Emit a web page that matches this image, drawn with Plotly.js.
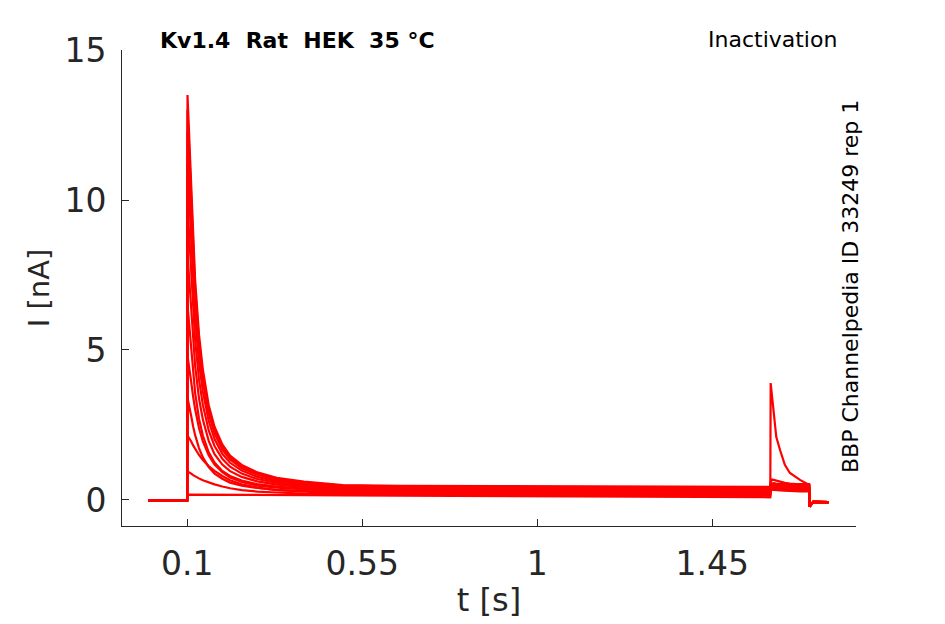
<!DOCTYPE html>
<html>
<head>
<meta charset="utf-8">
<script src="https://cdn.plot.ly/plotly-3.0.1.min.js"></script>
<style>
  body { margin: 0; background: #fff; }
  #chart { width: 945px; height: 624px; }
</style>
</head>
<body>
<div id="chart"></div>
<script>
// sample times [s], shared by every sweep
const tSec = [0, 0.0995, 0.1005, 0.106, 0.11, 0.115, 0.12, 0.13, 0.14, 0.155, 0.17, 0.19, 0.21, 0.24, 0.28, 0.33, 0.4, 0.5, 0.65,
  0.9, 1.2, 1.5995, 1.6005, 1.604, 1.608, 1.615, 1.625, 1.637, 1.65, 1.676, 1.6995, 1.7005, 1.71, 1.75];

// currents [nA], one array per sweep
const sweep0 = [-0.01, -0.01, 0.18, 0.18, 0.18, 0.18, 0.18, 0.18, 0.18, 0.18, 0.18, 0.18, 0.18, 0.17, 0.17, 0.16, 0.16, 0.15, 0.14,
  0.13, 0.11, 0.09, 3.9, 3.45, 2.9, 2.1, 1.65, 1.17, 0.9, 0.67, 0.5, -0.22, -0.06, -0.07];
const sweep1 = [-0.01, -0.01, 0.95, 0.92, 0.88, 0.83, 0.79, 0.72, 0.66, 0.58, 0.52, 0.45, 0.39, 0.33, 0.28, 0.25, 0.21, 0.19, 0.17,
  0.16, 0.15, 0.14, 0.6, 0.68, 0.67, 0.64, 0.6, 0.57, 0.55, 0.52, 0.5, -0.22, -0.06, -0.07];
const sweep2 = [-0.01, -0.01, 2.15, 2.05, 1.95, 1.82, 1.7, 1.5, 1.33, 1.13, 0.97, 0.8, 0.66, 0.52, 0.41, 0.33, 0.28, 0.23, 0.21,
  0.19, 0.18, 0.17, 0.35, 0.45, 0.44, 0.41, 0.38, 0.35, 0.33, 0.31, 0.3, -0.22, -0.06, -0.07];
const sweep3 = [-0.01, -0.01, 3.4, 3.09, 2.8, 2.45, 2.17, 1.73, 1.42, 1.1, 0.88, 0.71, 0.58, 0.48, 0.4, 0.34, 0.3, 0.27, 0.24,
  0.22, 0.21, 0.2, 0.3, 0.34, 0.34, 0.33, 0.32, 0.31, 0.3, 0.29, 0.29, -0.22, -0.06, -0.07];
const sweep4 = [-0.01, -0.01, 4.8, 4.35, 3.94, 3.44, 3.03, 2.4, 1.95, 1.49, 1.18, 0.93, 0.75, 0.6, 0.48, 0.41, 0.35, 0.3, 0.27,
  0.25, 0.24, 0.23, 0.33, 0.35, 0.35, 0.34, 0.33, 0.33, 0.32, 0.32, 0.32, -0.22, -0.06, -0.07];
const sweep5 = [-0.01, -0.01, 6.5, 5.69, 5.01, 4.2, 3.58, 2.71, 2.15, 1.59, 1.25, 0.97, 0.8, 0.65, 0.53, 0.45, 0.38, 0.33, 0.3,
  0.28, 0.27, 0.26, 0.36, 0.38, 0.38, 0.37, 0.36, 0.36, 0.35, 0.35, 0.35, -0.22, -0.06, -0.07];
const sweep6 = [-0.01, -0.01, 8.2, 7.17, 6.31, 5.28, 4.49, 3.39, 2.68, 1.97, 1.53, 1.18, 0.96, 0.77, 0.62, 0.51, 0.43, 0.37, 0.33,
  0.31, 0.3, 0.29, 0.39, 0.41, 0.41, 0.4, 0.39, 0.39, 0.38, 0.38, 0.38, -0.22, -0.06, -0.07];
const sweep7 = [-0.01, -0.01, 9.8, 8.57, 7.53, 6.3, 5.35, 4.02, 3.17, 2.32, 1.8, 1.37, 1.11, 0.88, 0.7, 0.57, 0.47, 0.4, 0.36,
  0.34, 0.33, 0.32, 0.42, 0.44, 0.44, 0.43, 0.42, 0.42, 0.41, 0.41, 0.41, -0.22, -0.06, -0.07];
const sweep8 = [-0.01, -0.01, 11.2, 9.79, 8.6, 7.19, 6.1, 4.58, 3.61, 2.63, 2.03, 1.54, 1.24, 0.98, 0.77, 0.62, 0.51, 0.43, 0.39,
  0.37, 0.36, 0.35, 0.45, 0.47, 0.47, 0.46, 0.45, 0.45, 0.44, 0.44, 0.44, -0.22, -0.06, -0.07];
const sweep9 = [-0.01, -0.01, 12.3, 10.75, 9.44, 7.89, 6.69, 5.02, 3.95, 2.88, 2.22, 1.68, 1.35, 1.06, 0.84, 0.67, 0.55, 0.45, 0.42,
  0.4, 0.39, 0.38, 0.48, 0.5, 0.5, 0.49, 0.48, 0.48, 0.47, 0.47, 0.47, -0.22, -0.06, -0.07];
const sweep10 = [-0.01, -0.01, 13.0, 11.36, 9.97, 8.33, 7.07, 5.31, 4.17, 3.04, 2.34, 1.78, 1.42, 1.12, 0.88, 0.71, 0.58, 0.48, 0.45,
  0.43, 0.42, 0.41, 0.51, 0.53, 0.53, 0.52, 0.51, 0.51, 0.5, 0.5, 0.5, -0.22, -0.06, -0.07];
const sweep11 = [-0.01, -0.01, 13.5, 11.8, 10.36, 8.66, 7.35, 5.52, 4.34, 3.16, 2.44, 1.85, 1.48, 1.17, 0.92, 0.74, 0.61, 0.5, 0.47,
  0.46, 0.45, 0.44, 0.54, 0.56, 0.56, 0.55, 0.54, 0.54, 0.53, 0.53, 0.53, -0.22, -0.06, -0.07];

const sweeps = [sweep0, sweep1, sweep2, sweep3, sweep4, sweep5, sweep6, sweep7, sweep8, sweep9, sweep10, sweep11];

const xTicks = [0.1, 0.55, 1, 1.45];
const xTickText = ['0.1', '0.55', '1', '1.45'];
const yTicks = [0, 5, 10, 15];

const axisGrey = '#262626';
const traceRed = '#ff0000';

const data = sweeps.map(cur => ({
  x: tSec,
  y: cur,
  type: 'scatter',
  mode: 'lines',
  line: { color: traceRed, width: 2.2 },
  hoverinfo: 'skip',
  showlegend: false
}));

const layout = {
  width: 945,
  height: 624,
  margin: { l: 122, r: 89, t: 50, b: 98 },
  paper_bgcolor: '#fff',
  plot_bgcolor: '#fff',
  font: { family: 'DejaVu Sans', color: axisGrey },
  xaxis: {
    range: [-0.068, 1.82],
    tickvals: xTicks,
    ticktext: xTickText,
    ticks: 'inside',
    ticklen: 7,
    tickcolor: axisGrey,
    tickfont: { size: 33, color: axisGrey },
    ticklabelstandoff: 8,
    showline: true,
    linecolor: axisGrey,
    linewidth: 1,
    showgrid: false,
    zeroline: false,
    title: { text: 't [s]', font: { size: 32, color: axisGrey }, standoff: 7 }
  },
  yaxis: {
    range: [-0.867, 15],
    tickvals: yTicks,
    ticks: 'inside',
    ticklen: 7,
    tickcolor: axisGrey,
    tickfont: { size: 33, color: axisGrey },
    ticklabelstandoff: 8,
    showline: true,
    linecolor: axisGrey,
    linewidth: 1,
    showgrid: false,
    zeroline: false,
    title: { text: 'I [nA]', font: { size: 29, color: axisGrey }, standoff: 6 }
  },
  annotations: [
    {
      text: '<b>Kv1.4\u00a0\u00a0Rat\u00a0\u00a0HEK\u00a0\u00a035\u00a0°C</b>',
      xref: 'paper', yref: 'paper',
      x: (158 - 122) / 734, y: 1.021,
      xanchor: 'left', yanchor: 'middle',
      showarrow: false,
      font: { size: 22, color: '#000' }
    },
    {
      text: 'Inactivation',
      xref: 'paper', yref: 'paper',
      x: (839 - 122) / 734, y: 1.023,
      xanchor: 'right', yanchor: 'middle',
      showarrow: false,
      font: { size: 22, color: '#000' }
    },
    {
      text: 'BBP Channelpedia ID 33249 rep 1',
      xref: 'paper', yref: 'paper',
      x: (850 - 122) / 734, y: (526 - 287) / 476,
      xanchor: 'center', yanchor: 'middle',
      textangle: -90,
      showarrow: false,
      font: { size: 22, color: '#000' }
    }
  ]
};

Plotly.newPlot('chart', data, layout, { staticPlot: true, displayModeBar: false });
</script>
</body>
</html>
